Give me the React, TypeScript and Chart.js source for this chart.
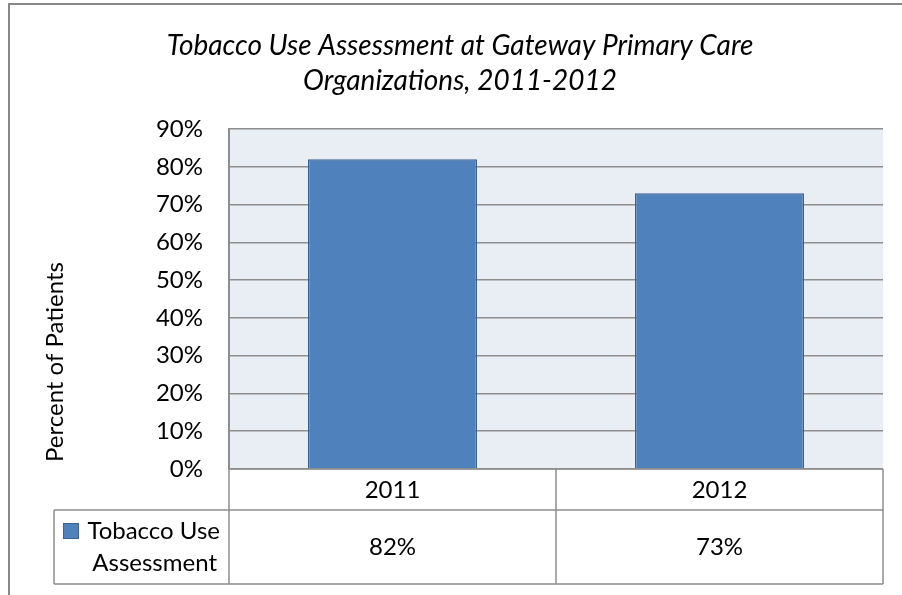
import React, { useEffect, useRef } from 'react';
import { Chart, registerables } from 'chart.js';

Chart.register(...registerables);

const titleLines = ['Tobacco Use Assessment at Gateway Primary Care', 'Organizations, 2011-2012'];
const categories = ['2011', '2012'];
const seriesName = 'Tobacco Use Assessment';
const legendLines = ['Tobacco Use', 'Assessment'];
const values = [82, 73];
const yMin = 0;
const yMax = 90;
const yStep = 10;
const yAxisTitle = 'Percent of Patients';

const FONT = 'Lato, "Open Sans", sans-serif';
const GRID = '#8e8e8e';
const BAR_FILL = '#4f81bd';
const BAR_EDGE = '#3a6496';
const TEXT_SIZE = 24;

const decorPlugin = {
  id: 'decor',
  beforeDraw(chart: any) {
    const { ctx, chartArea, width, height } = chart;
    ctx.save();
    ctx.fillStyle = '#ffffff';
    ctx.fillRect(0, 0, width, height);
    // outer frame (left + top)
    ctx.strokeStyle = '#888888';
    ctx.lineWidth = 2;
    ctx.beginPath();
    ctx.moveTo(9, height);
    ctx.lineTo(9, 4);
    ctx.lineTo(width, 4);
    ctx.stroke();
    // plot background
    ctx.fillStyle = '#e9edf4';
    ctx.fillRect(chartArea.left, chartArea.top, chartArea.right - chartArea.left, chartArea.bottom - chartArea.top);
    ctx.restore();
  },
  afterDraw(chart: any) {
    const { ctx, chartArea } = chart;
    const xs = chart.scales.x;
    const row1Top = chartArea.bottom;
    const row1Bottom = row1Top + 41;
    const row2Bottom = row1Bottom + 74;
    const legendLeft = 54;
    const centers = categories.map((_, i) => xs.getPixelForTick(i));
    const bounds: number[] = [chartArea.left];
    for (let i = 0; i < centers.length - 1; i++) bounds.push((centers[i] + centers[i + 1]) / 2);
    bounds.push(chartArea.right);

    ctx.save();
    ctx.strokeStyle = GRID;
    ctx.lineWidth = 1.5;
    ctx.beginPath();
    ctx.moveTo(chartArea.left, row1Top);
    ctx.lineTo(chartArea.right, row1Top);
    ctx.moveTo(legendLeft, row1Bottom);
    ctx.lineTo(chartArea.right, row1Bottom);
    ctx.moveTo(legendLeft, row2Bottom);
    ctx.lineTo(chartArea.right, row2Bottom);
    ctx.moveTo(legendLeft, row1Bottom);
    ctx.lineTo(legendLeft, row2Bottom);
    bounds.forEach((b) => {
      ctx.moveTo(b, row1Top);
      ctx.lineTo(b, row2Bottom);
    });
    ctx.stroke();

    // values row
    ctx.fillStyle = '#000000';
    ctx.font = `${TEXT_SIZE}px ${FONT}`;
    ctx.textAlign = 'center';
    ctx.textBaseline = 'middle';
    const rowMid = (row1Bottom + row2Bottom) / 2;
    values.forEach((v, i) => {
      ctx.fillText(`${v}%`, centers[i], rowMid);
    });

    // legend key
    ctx.fillStyle = BAR_FILL;
    ctx.fillRect(63, 523, 16, 16);
    ctx.strokeStyle = BAR_EDGE;
    ctx.lineWidth = 1;
    ctx.strokeRect(63.5, 523.5, 15, 15);
    ctx.fillStyle = '#000000';
    ctx.textAlign = 'right';
    ctx.fillText(legendLines[0], 220, rowMid - 16);
    ctx.fillText(legendLines[1], 217, rowMid + 16);

    // title
    ctx.font = `italic 28px ${FONT}`;
    ctx.textAlign = 'center';
    ctx.textBaseline = 'alphabetic';
    ctx.fillText(titleLines[0], 460, 55);
    ctx.fillText(titleLines[1], 460, 90);

    // y-axis title
    ctx.font = `${TEXT_SIZE}px ${FONT}`;
    ctx.translate(55, 362);
    ctx.rotate(-Math.PI / 2);
    ctx.textBaseline = 'middle';
    ctx.fillText(yAxisTitle, 0, 0);
    ctx.restore();
  },
};

export default function App() {
  const ref = useRef<HTMLCanvasElement | null>(null);
  useEffect(() => {
    if (!ref.current) return;
    const chart = new Chart(ref.current, {
      type: 'bar',
      data: {
        labels: categories,
        datasets: [
          {
            label: seriesName,
            data: values,
            backgroundColor: BAR_FILL,
            borderColor: BAR_EDGE,
            borderWidth: 1.5,
            categoryPercentage: 1,
            barPercentage: 0.517,
          },
        ],
      },
      options: {
        animation: false,
        responsive: false,
        devicePixelRatio: 1,
        layout: { padding: { top: 129, right: 19, left: 0, bottom: 0 } },
        plugins: {
          legend: { display: false },
          title: { display: false },
          tooltip: { enabled: false },
        },
        scales: {
          x: {
            grid: { display: false, drawTicks: false },
            border: { display: false },
            ticks: {
              font: { family: FONT, size: TEXT_SIZE },
              color: '#000000',
              padding: 7,
              maxRotation: 0,
            },
            afterFit(scale: any) {
              scale.height = 126;
            },
          },
          y: {
            min: yMin,
            max: yMax,
            grid: { color: GRID, lineWidth: 1.5, drawTicks: false },
            border: { display: true, color: GRID, width: 2 },
            ticks: {
              stepSize: yStep,
              font: { family: FONT, size: TEXT_SIZE },
              color: '#000000',
              padding: 26,
              callback: (v: any) => `${v}%`,
            },
            afterFit(scale: any) {
              scale.width = 229;
            },
          },
        },
      },
      plugins: [decorPlugin],
    });
    return () => chart.destroy();
  }, []);
  return (
    <div style={{ position: 'fixed', left: 0, top: 0, width: 902, height: 595 }}>
      <canvas ref={ref} width={902} height={595} style={{ display: 'block' }} />
    </div>
  );
}
